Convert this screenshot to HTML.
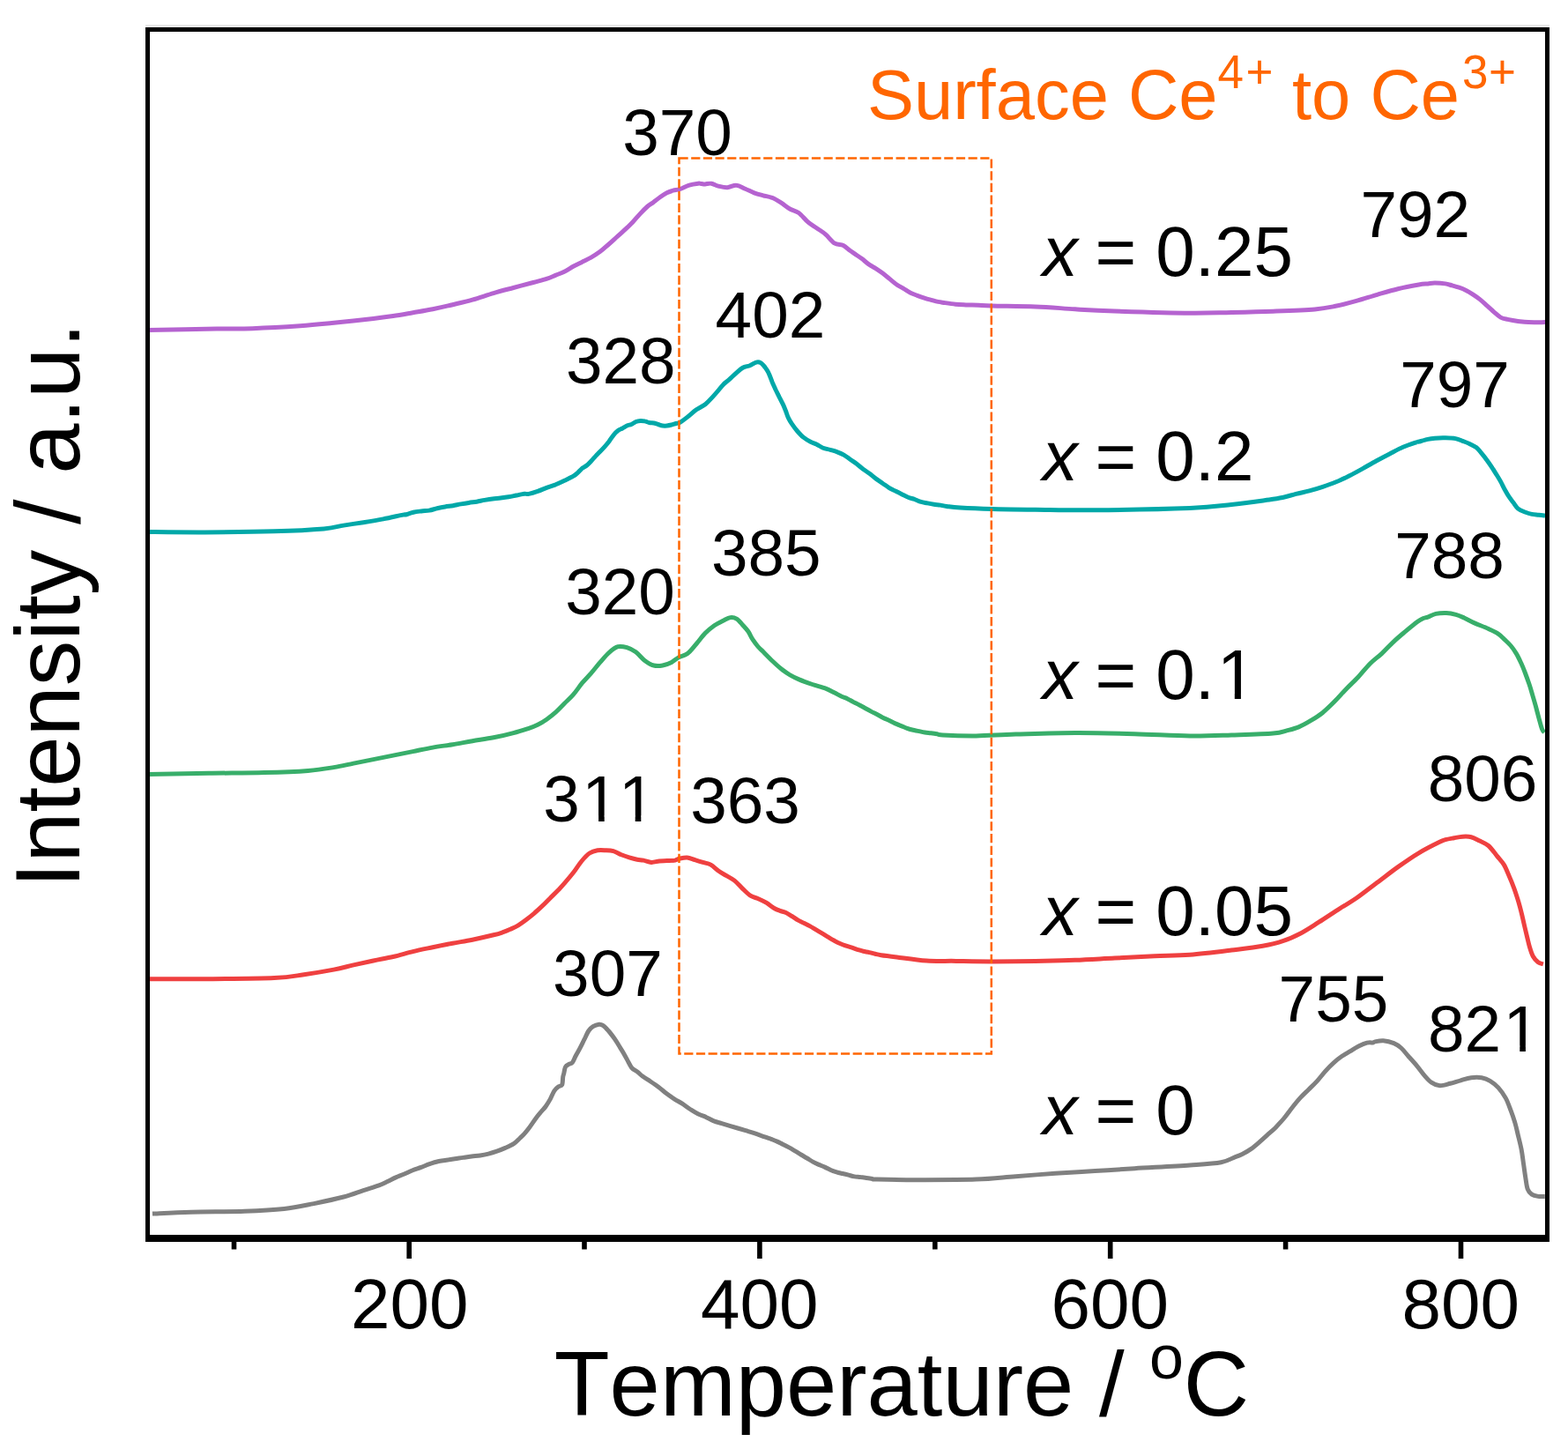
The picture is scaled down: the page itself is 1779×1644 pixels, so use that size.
<!DOCTYPE html><html><head><meta charset="utf-8"><title>TPR profiles</title><style>html,body{margin:0;padding:0;background:#fff;overflow:hidden;}svg{display:block;} text{font-kerning:none;}</style></head><body>
<svg width="1779" height="1644" viewBox="0 0 1779 1644" font-family="'Liberation Sans', Arial, sans-serif">
<rect width="1779" height="1644" fill="#fff"/>
<path d="M172.9 1377.1 C180.2 1376.8 199.3 1375.8 216.7 1375.3 C234.1 1374.8 259.8 1374.8 277.4 1374.2 C295.0 1373.6 309.3 1372.9 322.4 1371.5 C335.5 1370.1 344.9 1367.8 356.1 1365.6 C367.3 1363.3 380.4 1360.5 389.8 1358.0 C399.2 1355.5 405.6 1352.8 412.3 1350.6 C419.0 1348.4 425.4 1346.6 430.0 1344.9 C434.6 1343.2 436.4 1342.1 439.6 1340.6 C442.8 1339.1 445.9 1337.3 449.1 1335.9 C452.3 1334.5 455.5 1333.4 458.7 1332.0 C461.9 1330.6 465.0 1329.0 468.2 1327.7 C471.4 1326.4 474.6 1325.6 477.8 1324.4 C481.0 1323.2 484.1 1321.7 487.3 1320.6 C490.5 1319.5 493.7 1318.4 496.9 1317.7 C500.1 1317.0 503.2 1316.8 506.4 1316.3 C509.6 1315.8 512.8 1315.3 516.0 1314.8 C519.2 1314.3 522.4 1313.9 525.6 1313.4 C528.8 1312.9 531.9 1312.4 535.1 1312.0 C538.3 1311.6 541.5 1311.5 544.7 1311.0 C547.9 1310.5 551.0 1309.9 554.2 1309.1 C557.4 1308.3 560.6 1307.3 563.8 1306.2 C567.0 1305.1 570.1 1303.8 573.3 1302.4 C576.5 1301.0 580.1 1299.5 582.9 1297.6 C585.7 1295.7 588.0 1293.1 590.0 1291.2 C592.0 1289.3 593.3 1288.1 594.9 1286.3 C596.5 1284.5 598.1 1282.6 599.7 1280.5 C601.3 1278.4 603.0 1275.9 604.6 1273.6 C606.2 1271.3 607.9 1268.9 609.5 1266.8 C611.1 1264.7 612.7 1262.9 614.3 1261.0 C615.9 1259.1 617.6 1257.5 619.2 1255.2 C620.8 1252.9 622.5 1250.3 624.1 1247.4 C625.7 1244.5 627.3 1240.0 628.9 1237.6 C630.5 1235.2 632.3 1233.9 633.8 1232.8 C635.3 1231.7 636.9 1232.6 637.7 1230.8 C638.5 1229.0 638.4 1224.1 638.7 1222.0 C639.0 1219.9 639.2 1220.1 639.7 1218.2 C640.2 1216.3 640.6 1212.2 641.6 1210.4 C642.6 1208.6 644.2 1208.2 645.5 1207.4 C646.8 1206.6 648.1 1207.1 649.4 1205.5 C650.7 1203.9 651.8 1200.5 653.3 1197.7 C654.8 1194.9 656.6 1192.0 658.2 1188.9 C659.8 1185.8 661.4 1182.4 663.0 1179.2 C664.6 1176.0 666.3 1171.9 667.9 1169.5 C669.5 1167.1 670.8 1165.8 672.8 1164.6 C674.8 1163.4 677.7 1162.4 679.6 1162.2 C681.5 1162.0 682.6 1162.4 684.4 1163.6 C686.2 1164.8 688.2 1167.1 690.3 1169.5 C692.4 1171.9 695.1 1175.5 697.1 1178.2 C699.1 1181.0 700.4 1183.4 702.0 1186.0 C703.6 1188.6 705.2 1191.0 706.8 1193.8 C708.4 1196.6 710.1 1199.7 711.7 1202.6 C713.3 1205.5 714.7 1209.0 716.6 1211.3 C718.5 1213.6 721.3 1214.6 723.4 1216.2 C725.5 1217.8 726.6 1219.3 729.0 1221.1 C731.4 1222.9 735.0 1225.0 738.0 1227.0 C741.0 1229.0 744.0 1231.0 747.0 1233.3 C750.0 1235.5 753.0 1238.2 756.0 1240.5 C759.0 1242.8 762.0 1244.8 765.0 1246.8 C768.0 1248.8 771.0 1250.2 774.0 1252.2 C777.0 1254.2 780.0 1256.6 783.0 1258.5 C786.0 1260.4 788.9 1262.3 791.9 1263.8 C794.9 1265.3 797.9 1266.1 800.9 1267.4 C803.9 1268.8 806.9 1270.7 809.9 1271.9 C812.9 1273.1 815.9 1273.7 818.9 1274.6 C821.9 1275.5 824.9 1276.4 827.9 1277.3 C830.9 1278.2 833.9 1279.1 836.9 1280.0 C839.9 1280.9 842.9 1281.8 845.9 1282.7 C848.9 1283.6 851.9 1284.4 854.9 1285.4 C857.9 1286.4 860.9 1287.5 863.9 1288.6 C866.9 1289.6 871.0 1291.1 872.9 1291.7 C874.8 1292.3 873.5 1291.8 875.0 1292.4 C876.5 1293.0 879.5 1294.1 881.7 1295.1 C884.0 1296.1 886.2 1297.4 888.5 1298.5 C890.8 1299.6 893.0 1300.7 895.2 1301.9 C897.5 1303.1 899.8 1304.6 902.0 1305.9 C904.2 1307.2 906.5 1308.7 908.7 1310.0 C911.0 1311.3 913.2 1312.7 915.5 1314.0 C917.8 1315.3 920.0 1316.9 922.2 1318.1 C924.5 1319.3 926.8 1320.4 929.0 1321.4 C931.2 1322.4 933.5 1323.1 935.7 1324.1 C938.0 1325.1 940.2 1326.5 942.5 1327.5 C944.8 1328.5 947.0 1329.2 949.2 1329.9 C951.4 1330.6 953.6 1331.0 955.9 1331.5 C958.1 1332.0 960.5 1332.6 962.7 1333.2 C965.0 1333.8 967.1 1334.5 969.4 1334.9 C971.6 1335.3 974.0 1335.3 976.2 1335.6 C978.5 1335.8 980.6 1336.1 982.9 1336.4 C985.1 1336.7 987.7 1337.1 989.7 1337.4 C991.7 1337.7 986.6 1337.9 995.0 1338.1 C1003.4 1338.3 1021.3 1338.7 1040.0 1338.7 C1058.7 1338.7 1088.7 1338.8 1107.4 1338.1 C1126.1 1337.4 1137.4 1335.8 1152.4 1334.7 C1167.4 1333.6 1182.3 1332.3 1197.3 1331.3 C1212.3 1330.3 1227.3 1329.5 1242.3 1328.6 C1257.3 1327.7 1269.3 1326.8 1287.3 1325.7 C1305.2 1324.6 1333.7 1323.2 1350.0 1322.0 C1366.3 1320.8 1377.1 1320.2 1385.4 1318.7 C1393.7 1317.2 1396.0 1314.8 1400.0 1313.3 C1404.0 1311.8 1406.2 1311.1 1409.4 1309.5 C1412.6 1307.9 1415.8 1306.1 1418.9 1303.9 C1422.1 1301.7 1425.2 1299.0 1428.3 1296.3 C1431.4 1293.6 1434.6 1290.7 1437.7 1287.9 C1440.8 1285.1 1443.9 1282.6 1447.1 1279.4 C1450.2 1276.2 1453.4 1272.8 1456.6 1269.0 C1459.8 1265.2 1462.9 1260.6 1466.0 1256.7 C1469.1 1252.8 1472.2 1248.9 1475.4 1245.4 C1478.6 1242.0 1481.8 1239.1 1484.9 1236.0 C1488.1 1232.9 1491.2 1230.0 1494.3 1226.6 C1497.4 1223.1 1500.6 1218.8 1503.7 1215.3 C1506.8 1211.8 1509.9 1208.6 1513.1 1205.8 C1516.2 1203.0 1519.4 1200.5 1522.6 1198.3 C1525.8 1196.1 1528.9 1194.5 1532.0 1192.6 C1535.1 1190.7 1538.2 1188.6 1541.4 1187.0 C1544.6 1185.4 1548.2 1183.9 1550.9 1183.2 C1553.6 1182.5 1556.3 1183.1 1557.8 1182.9 C1559.3 1182.7 1558.0 1182.3 1560.0 1181.9 C1562.0 1181.5 1565.9 1180.4 1569.5 1180.7 C1573.1 1181.0 1578.0 1182.2 1581.4 1183.6 C1584.8 1185.0 1586.9 1186.5 1589.7 1189.0 C1592.5 1191.5 1595.0 1195.2 1598.0 1198.5 C1601.0 1201.8 1604.4 1205.5 1607.4 1209.1 C1610.4 1212.6 1613.0 1216.6 1615.8 1219.8 C1618.6 1223.0 1621.1 1226.1 1624.1 1228.1 C1627.0 1230.1 1630.0 1231.5 1633.5 1231.7 C1637.0 1231.9 1641.4 1230.3 1645.4 1229.3 C1649.4 1228.3 1653.3 1226.9 1657.3 1225.8 C1661.2 1224.7 1665.1 1223.3 1669.1 1222.8 C1673.0 1222.3 1677.4 1222.2 1681.0 1222.8 C1684.6 1223.4 1687.3 1224.4 1690.5 1226.3 C1693.7 1228.2 1697.0 1230.8 1700.0 1234.1 C1703.0 1237.4 1705.9 1241.6 1708.3 1245.9 C1710.7 1250.2 1712.4 1255.5 1714.2 1260.2 C1716.0 1265.0 1717.6 1269.7 1719.0 1274.4 C1720.4 1279.1 1721.3 1283.7 1722.5 1288.6 C1723.7 1293.5 1725.1 1298.8 1726.1 1304.0 C1727.1 1309.2 1727.6 1314.2 1728.4 1319.5 C1729.2 1324.8 1730.0 1331.2 1730.8 1336.1 C1731.6 1341.0 1732.0 1345.9 1733.2 1349.1 C1734.4 1352.3 1735.9 1353.7 1737.9 1355.1 C1739.9 1356.5 1742.6 1357.0 1745.1 1357.4 C1747.6 1357.8 1751.5 1357.4 1752.8 1357.4" fill="none" stroke="#808080" stroke-width="5" stroke-linejoin="round" stroke-linecap="butt"/>
<path d="M168.4 1110.7 C179.1 1110.7 208.7 1110.9 232.5 1110.7 C256.3 1110.5 292.5 1110.3 311.2 1109.5 C329.9 1108.7 333.7 1107.3 344.9 1105.7 C356.1 1104.1 369.2 1101.9 378.6 1100.1 C388.0 1098.3 393.6 1096.6 401.1 1094.9 C408.6 1093.2 416.1 1091.6 423.6 1090.0 C431.1 1088.4 438.5 1087.2 446.0 1085.5 C453.5 1083.8 461.0 1081.4 468.5 1079.6 C476.0 1077.8 483.5 1076.3 491.0 1074.7 C498.5 1073.1 506.0 1071.6 513.5 1070.2 C521.0 1068.8 528.2 1067.8 536.0 1066.2 C543.8 1064.6 554.3 1062.2 560.0 1060.8 C565.7 1059.4 566.8 1059.0 570.0 1057.9 C573.2 1056.8 576.0 1055.7 579.0 1054.3 C582.0 1052.9 585.0 1051.6 588.0 1049.8 C591.0 1048.0 594.0 1045.8 597.0 1043.5 C600.0 1041.2 603.0 1038.8 606.0 1036.3 C609.0 1033.8 612.0 1031.0 615.0 1028.2 C618.0 1025.4 621.0 1022.2 624.0 1019.2 C627.0 1016.2 630.0 1013.4 633.0 1010.3 C636.0 1007.2 638.9 1003.8 641.9 1000.4 C644.9 997.0 647.9 993.5 650.9 989.6 C653.9 985.7 656.9 980.6 659.9 977.0 C662.9 973.4 665.9 970.0 668.9 968.0 C671.9 966.0 674.9 965.3 677.9 964.8 C680.9 964.3 683.9 964.6 686.9 964.8 C689.9 964.9 692.9 964.9 695.9 965.7 C698.9 966.5 701.9 968.6 704.9 969.8 C707.9 971.0 710.9 972.0 713.9 972.9 C716.9 973.8 720.2 974.7 722.9 975.2 C725.6 975.7 727.3 975.6 730.0 976.1 C732.7 976.6 736.0 978.2 739.0 978.4 C742.0 978.5 745.0 977.3 748.0 977.0 C751.0 976.7 754.0 976.8 757.0 976.6 C760.0 976.5 763.8 976.5 766.0 976.1 C768.2 975.7 768.2 974.8 770.5 974.3 C772.8 973.8 776.5 972.8 779.5 973.0 C782.5 973.2 785.5 974.8 788.5 975.7 C791.5 976.6 794.4 977.5 797.4 978.4 C800.4 979.3 803.4 979.5 806.4 981.1 C809.4 982.8 812.4 986.2 815.4 988.3 C818.4 990.4 821.4 991.9 824.4 993.7 C827.4 995.5 830.4 996.7 833.4 999.1 C836.4 1001.5 839.4 1005.2 842.4 1008.1 C845.4 1011.0 848.4 1014.3 851.4 1016.2 C854.4 1018.1 857.4 1018.4 860.4 1019.7 C863.4 1021.0 866.4 1022.4 869.4 1024.2 C872.4 1026.0 875.8 1029.0 878.4 1030.5 C881.0 1032.0 882.8 1032.6 885.0 1033.4 C887.2 1034.2 889.5 1034.5 891.7 1035.5 C894.0 1036.5 896.2 1038.1 898.5 1039.5 C900.8 1040.9 903.0 1042.6 905.2 1043.9 C907.5 1045.2 909.8 1046.2 912.0 1047.3 C914.2 1048.4 916.5 1049.4 918.7 1050.6 C921.0 1051.8 923.2 1053.3 925.5 1054.7 C927.8 1056.1 930.0 1057.4 932.2 1058.7 C934.5 1060.0 936.8 1061.5 939.0 1062.8 C941.2 1064.1 943.5 1065.6 945.7 1066.8 C948.0 1068.0 950.2 1069.2 952.5 1070.2 C954.8 1071.2 957.0 1072.1 959.2 1072.9 C961.4 1073.7 963.6 1074.2 965.9 1074.9 C968.1 1075.6 970.5 1076.6 972.7 1077.3 C975.0 1078.0 977.1 1078.8 979.4 1079.3 C981.6 1079.8 984.0 1080.1 986.2 1080.6 C988.5 1081.1 990.6 1081.8 992.9 1082.3 C995.1 1082.8 995.6 1083.1 999.7 1083.7 C1003.8 1084.3 1008.9 1084.9 1017.5 1085.9 C1026.1 1087.0 1040.0 1089.2 1051.2 1090.0 C1062.5 1090.8 1072.6 1090.2 1085.0 1090.4 C1097.4 1090.6 1110.4 1090.9 1125.4 1090.9 C1140.4 1090.9 1159.1 1090.7 1174.8 1090.4 C1190.5 1090.1 1204.8 1089.8 1219.8 1089.3 C1234.8 1088.8 1249.8 1087.8 1264.8 1087.1 C1279.8 1086.3 1295.6 1085.4 1309.8 1084.8 C1324.0 1084.2 1335.4 1084.4 1350.0 1083.3 C1364.6 1082.2 1383.4 1079.8 1397.2 1078.1 C1411.0 1076.4 1422.8 1075.1 1432.6 1073.3 C1442.4 1071.5 1449.1 1069.8 1456.2 1067.4 C1463.3 1065.1 1468.4 1062.7 1475.1 1059.2 C1481.8 1055.7 1488.9 1050.9 1496.4 1046.2 C1503.9 1041.5 1512.9 1035.3 1520.0 1030.8 C1527.1 1026.3 1531.8 1023.9 1538.9 1019.0 C1546.0 1014.1 1554.6 1007.2 1562.5 1001.3 C1570.4 995.4 1578.2 989.2 1586.1 983.6 C1594.0 978.0 1601.8 972.5 1609.7 967.8 C1617.6 963.1 1628.2 957.8 1633.3 955.3 C1638.3 952.8 1637.3 953.5 1640.0 952.7 C1642.7 951.9 1646.5 951.3 1649.7 950.7 C1653.0 950.1 1656.2 949.4 1659.5 949.2 C1662.8 949.0 1666.0 948.9 1669.2 949.7 C1672.4 950.5 1675.7 952.5 1678.9 954.1 C1682.2 955.7 1685.5 956.7 1688.7 959.5 C1692.0 962.3 1695.5 967.5 1698.4 971.1 C1701.3 974.7 1703.9 977.2 1706.2 980.9 C1708.5 984.6 1710.0 989.0 1712.0 993.5 C1714.0 998.0 1716.1 1003.2 1717.9 1008.1 C1719.7 1013.0 1721.2 1017.8 1722.7 1022.7 C1724.2 1027.6 1725.5 1032.8 1726.6 1037.3 C1727.7 1041.8 1728.5 1045.8 1729.5 1050.0 C1730.5 1054.2 1731.5 1058.5 1732.5 1062.6 C1733.5 1066.6 1734.3 1070.6 1735.4 1074.3 C1736.5 1078.0 1737.7 1082.1 1739.3 1085.0 C1740.9 1087.9 1743.2 1090.3 1745.1 1091.8 C1747.0 1093.3 1749.9 1093.5 1750.9 1093.8" fill="none" stroke="#EF4040" stroke-width="5" stroke-linejoin="round" stroke-linecap="butt"/>
<path d="M168.4 878.4 C179.8 878.2 215.1 877.6 237.0 877.3 C258.9 877.0 281.2 877.1 299.9 876.6 C318.6 876.1 336.3 875.4 349.4 874.4 C362.5 873.4 370.0 872.0 378.6 870.6 C387.2 869.2 393.6 867.6 401.1 866.1 C408.6 864.6 416.1 863.1 423.6 861.6 C431.1 860.1 438.5 858.6 446.0 857.1 C453.5 855.6 461.0 854.1 468.5 852.6 C476.0 851.1 483.5 849.4 491.0 848.1 C498.5 846.8 506.0 845.9 513.5 844.7 C521.0 843.5 528.2 842.0 536.0 840.7 C543.8 839.4 552.2 838.3 560.0 836.8 C567.8 835.3 575.8 833.4 582.5 831.6 C589.2 829.9 595.4 827.8 600.0 826.3 C604.6 824.8 606.7 824.0 610.1 822.3 C613.5 820.6 616.8 818.6 620.2 816.2 C623.6 813.8 627.0 811.1 630.4 808.1 C633.8 805.1 637.1 801.4 640.5 798.0 C643.9 794.6 647.2 791.8 650.6 787.9 C654.0 784.0 657.3 778.8 660.7 774.7 C664.1 770.7 667.4 767.5 670.8 763.6 C674.2 759.7 677.5 755.3 680.9 751.4 C684.3 747.5 687.7 743.2 691.1 740.3 C694.5 737.3 697.8 734.6 701.2 733.7 C704.6 732.8 707.9 733.7 711.3 734.7 C714.7 735.7 718.0 737.3 721.4 739.8 C724.8 742.2 728.1 746.9 731.5 749.4 C734.9 751.9 738.3 754.1 741.7 755.0 C745.1 755.9 748.4 755.6 751.8 755.0 C755.2 754.4 758.9 752.9 761.9 751.4 C764.9 749.9 767.0 747.5 770.0 745.9 C773.0 744.3 776.6 744.2 780.0 741.6 C783.4 739.0 786.7 734.4 790.1 730.5 C793.5 726.6 796.8 721.8 800.2 718.3 C803.6 714.8 807.0 712.1 810.4 709.7 C813.8 707.4 817.5 705.7 820.5 704.2 C823.5 702.7 826.1 701.0 828.6 700.6 C831.1 700.2 833.4 700.7 835.7 702.1 C838.1 703.5 840.5 706.8 842.7 709.2 C844.9 711.6 846.9 713.6 848.8 716.3 C850.7 719.0 852.0 722.5 853.9 725.4 C855.8 728.3 857.9 731.1 859.9 733.5 C861.9 735.9 863.3 736.9 866.0 739.6 C868.7 742.3 872.7 746.5 876.1 749.7 C879.5 752.9 882.8 756.1 886.2 758.8 C889.6 761.5 893.0 763.9 896.4 765.9 C899.8 767.9 902.3 769.1 906.5 770.9 C910.7 772.7 916.7 774.8 921.7 776.5 C926.8 778.2 932.6 779.5 936.8 781.1 C941.0 782.7 944.0 784.6 947.0 786.1 C950.0 787.6 952.5 789.1 955.0 790.2 C957.5 791.3 959.5 791.8 961.7 792.9 C964.0 794.0 966.2 795.4 968.5 796.6 C970.8 797.8 973.0 798.8 975.2 800.0 C977.5 801.2 979.8 802.5 982.0 803.7 C984.2 804.9 986.5 806.2 988.7 807.4 C991.0 808.6 993.2 809.6 995.5 810.8 C997.8 812.0 1000.0 813.4 1002.2 814.5 C1004.5 815.6 1006.8 816.4 1009.0 817.5 C1011.2 818.6 1013.5 819.9 1015.7 820.9 C1018.0 821.9 1020.2 822.7 1022.5 823.6 C1024.8 824.5 1027.0 825.5 1029.2 826.3 C1031.4 827.1 1033.7 827.8 1035.9 828.3 C1038.2 828.8 1040.5 829.1 1042.7 829.6 C1045.0 830.1 1047.2 830.6 1049.4 831.0 C1051.7 831.4 1054.0 831.4 1056.2 831.7 C1058.5 832.0 1060.7 832.3 1062.9 832.7 C1065.2 833.1 1062.3 833.6 1069.7 834.0 C1077.1 834.4 1093.6 835.0 1107.4 834.9 C1121.2 834.8 1133.7 833.6 1152.4 833.1 C1171.1 832.6 1197.3 831.7 1219.8 831.6 C1242.3 831.5 1265.6 832.1 1287.3 832.7 C1309.0 833.3 1331.7 834.8 1350.0 835.0 C1368.3 835.2 1381.5 834.5 1397.2 834.0 C1412.9 833.5 1433.9 833.0 1444.4 832.1 C1454.9 831.2 1455.2 830.1 1460.0 828.9 C1464.8 827.7 1469.0 826.8 1473.5 824.9 C1478.0 823.0 1482.5 820.4 1487.0 817.7 C1491.5 815.0 1496.0 812.3 1500.5 808.7 C1505.0 805.1 1509.5 800.6 1514.0 796.1 C1518.5 791.6 1522.9 786.4 1527.4 781.7 C1531.9 777.1 1536.4 773.0 1540.9 768.2 C1545.4 763.4 1549.9 757.5 1554.4 753.0 C1558.9 748.5 1563.4 745.5 1567.9 741.3 C1572.4 737.1 1576.9 732.0 1581.4 727.8 C1585.9 723.6 1590.4 719.9 1594.9 716.1 C1599.4 712.4 1605.2 707.7 1608.4 705.3 C1611.7 702.9 1612.5 702.6 1614.4 701.7 C1616.3 700.8 1617.5 701.0 1620.0 700.1 C1622.5 699.2 1625.6 697.2 1629.1 696.4 C1632.6 695.6 1637.2 695.4 1641.0 695.5 C1644.8 695.6 1648.6 696.4 1651.9 697.3 C1655.2 698.2 1657.6 699.4 1661.1 701.0 C1664.6 702.6 1668.4 704.9 1672.9 706.9 C1677.5 708.9 1684.0 711.3 1688.4 713.3 C1692.8 715.3 1696.4 716.8 1699.4 718.8 C1702.5 720.8 1704.3 722.9 1706.7 725.2 C1709.1 727.5 1711.7 729.8 1714.0 732.5 C1716.3 735.2 1718.4 738.3 1720.4 741.6 C1722.4 744.9 1724.2 748.9 1725.9 752.5 C1727.6 756.1 1728.9 759.5 1730.4 763.5 C1731.9 767.5 1733.6 772.2 1735.0 776.3 C1736.4 780.4 1737.4 784.0 1738.6 788.1 C1739.8 792.2 1741.1 796.5 1742.3 800.9 C1743.5 805.3 1744.7 810.2 1745.9 814.6 C1747.1 819.0 1748.5 824.7 1749.6 827.4 C1750.7 830.1 1751.8 830.4 1752.3 831.0" fill="none" stroke="#38AE6A" stroke-width="5" stroke-linejoin="round" stroke-linecap="butt"/>
<path d="M168.4 603.5 C179.1 603.6 208.7 604.0 232.5 603.9 C256.3 603.8 288.5 603.5 311.0 602.8 C333.5 602.1 354.3 601.0 367.4 599.9 C380.5 598.8 382.3 597.3 389.8 596.1 C397.3 594.9 404.8 593.9 412.3 592.7 C419.8 591.5 427.3 590.3 434.8 588.9 C442.3 587.5 453.1 584.9 457.3 584.1 C461.5 583.3 458.1 584.5 460.0 584.0 C461.9 583.5 466.0 582.0 469.0 581.3 C472.0 580.6 475.0 580.3 478.0 579.9 C481.0 579.5 484.0 579.6 487.0 579.1 C490.0 578.6 493.0 577.5 496.0 576.8 C499.0 576.1 502.0 575.5 505.0 575.0 C508.0 574.5 511.0 574.2 514.0 573.7 C517.0 573.2 520.0 572.4 523.0 571.9 C526.0 571.4 528.9 571.0 531.9 570.5 C534.9 570.0 537.9 569.7 540.9 569.2 C543.9 568.7 546.9 567.9 549.9 567.4 C552.9 566.9 555.9 566.4 558.9 566.0 C561.9 565.6 564.9 565.5 567.9 565.1 C570.9 564.7 573.9 564.3 576.9 563.8 C579.9 563.3 582.9 562.6 585.9 562.0 C588.9 561.4 592.5 560.5 594.9 560.2 C597.2 559.9 597.5 560.9 600.0 560.4 C602.5 559.9 606.7 558.6 610.1 557.4 C613.5 556.2 616.8 554.6 620.2 553.3 C623.6 552.0 627.0 551.1 630.4 549.8 C633.8 548.4 637.1 546.8 640.5 545.2 C643.9 543.6 648.1 541.7 650.6 540.2 C653.1 538.7 654.0 537.6 655.7 536.1 C657.4 534.6 659.0 532.5 660.7 531.1 C662.4 529.8 664.1 529.4 665.8 528.0 C667.5 526.6 669.1 524.8 670.8 523.0 C672.5 521.2 674.2 519.2 675.9 517.4 C677.6 515.6 679.2 514.1 680.9 512.3 C682.6 510.5 684.3 508.7 686.0 506.8 C687.7 504.9 689.4 502.9 691.1 500.7 C692.8 498.5 694.4 495.6 696.1 493.6 C697.8 491.6 699.5 489.9 701.2 488.6 C702.9 487.3 704.5 486.9 706.2 486.0 C707.9 485.1 709.6 483.8 711.3 483.0 C713.0 482.2 714.7 482.2 716.4 481.5 C718.1 480.8 719.7 479.2 721.4 478.5 C723.1 477.8 724.8 477.5 726.5 477.4 C728.2 477.3 729.8 477.5 731.5 477.9 C733.2 478.2 734.9 479.1 736.6 479.5 C738.3 479.9 740.0 479.7 741.7 480.0 C743.4 480.3 745.0 481.0 746.7 481.5 C748.4 482.0 750.1 482.8 751.8 483.0 C753.5 483.2 755.1 483.2 756.8 483.0 C758.5 482.8 760.2 482.4 761.9 482.0 C763.6 481.6 765.4 480.9 766.9 480.5 C768.4 480.1 768.8 480.7 771.0 479.5 C773.2 478.3 776.8 475.6 780.0 473.1 C783.2 470.7 786.7 467.2 790.1 464.8 C793.5 462.4 797.2 461.1 800.2 458.7 C803.2 456.3 805.8 453.3 808.3 450.6 C810.8 447.9 813.4 444.9 815.4 442.5 C817.4 440.1 818.5 438.4 820.5 436.4 C822.5 434.4 825.1 432.7 827.6 430.4 C830.1 428.1 833.2 425.0 835.7 422.8 C838.2 420.6 840.2 418.6 842.7 417.2 C845.2 415.8 848.3 415.7 850.8 414.7 C853.3 413.7 855.9 411.6 857.9 411.1 C859.9 410.6 861.3 410.7 863.0 411.6 C864.7 412.5 866.5 414.8 868.0 416.7 C869.5 418.6 870.8 420.5 872.1 423.3 C873.5 426.1 874.8 430.2 876.1 433.4 C877.5 436.6 878.9 439.6 880.2 442.5 C881.6 445.4 882.9 447.9 884.2 450.6 C885.6 453.3 887.1 456.2 888.3 458.7 C889.5 461.2 890.3 463.3 891.3 465.8 C892.3 468.3 893.1 471.4 894.3 473.9 C895.5 476.4 896.7 478.4 898.4 480.9 C900.1 483.4 902.3 486.5 904.5 489.0 C906.7 491.5 909.0 494.1 911.5 496.1 C914.0 498.1 917.1 499.9 919.6 501.2 C922.1 502.5 924.3 503.0 926.7 504.2 C929.1 505.4 931.3 507.3 933.8 508.3 C936.3 509.3 939.2 509.6 941.9 510.3 C944.6 511.1 947.4 511.8 950.0 512.8 C952.6 513.8 954.9 514.7 957.3 516.1 C959.7 517.5 962.2 519.5 964.6 521.2 C967.0 522.9 969.5 524.5 971.9 526.3 C974.3 528.1 976.8 530.4 979.2 532.2 C981.6 534.0 984.1 535.5 986.5 537.3 C988.9 539.1 991.3 541.3 993.8 543.1 C996.2 544.9 998.8 546.5 1001.2 548.2 C1003.7 549.9 1006.1 551.8 1008.5 553.3 C1010.9 554.8 1013.4 555.8 1015.8 557.0 C1018.2 558.2 1020.7 559.5 1023.1 560.7 C1025.5 561.9 1028.0 563.3 1030.4 564.3 C1032.8 565.3 1035.3 565.6 1037.7 566.5 C1040.1 567.4 1042.6 568.7 1045.0 569.4 C1047.4 570.1 1049.9 570.4 1052.3 570.9 C1054.7 571.4 1057.2 571.9 1059.6 572.3 C1062.0 572.7 1064.5 572.7 1066.9 573.1 C1069.3 573.5 1070.5 574.0 1074.2 574.5 C1078.0 575.0 1080.9 575.6 1089.4 576.1 C1097.9 576.6 1111.2 577.2 1125.4 577.6 C1139.6 578.0 1155.3 578.1 1174.8 578.3 C1194.3 578.5 1213.1 579.1 1242.3 578.8 C1271.5 578.5 1324.2 577.5 1350.0 576.5 C1375.8 575.5 1382.2 574.1 1397.2 572.5 C1412.2 570.9 1430.3 568.3 1440.0 567.0 C1449.7 565.7 1450.1 565.6 1455.2 564.5 C1460.3 563.4 1465.4 561.7 1470.4 560.4 C1475.5 559.1 1480.5 558.2 1485.5 556.9 C1490.5 555.5 1495.6 554.0 1500.7 552.3 C1505.8 550.6 1510.8 548.9 1515.9 546.8 C1521.0 544.7 1526.0 542.2 1531.1 539.7 C1536.1 537.2 1541.2 534.4 1546.2 531.6 C1551.2 528.8 1556.3 525.8 1561.4 523.0 C1566.5 520.2 1571.5 517.5 1576.6 514.9 C1581.7 512.3 1586.7 509.5 1591.8 507.3 C1596.9 505.1 1604.0 502.8 1607.0 501.8 C1610.0 500.8 1607.5 501.8 1609.7 501.2 C1611.9 500.6 1617.0 499.1 1620.0 498.4 C1623.0 497.7 1624.6 497.5 1627.9 497.2 C1631.2 496.9 1635.8 496.7 1639.7 496.8 C1643.6 496.9 1648.2 497.0 1651.5 497.6 C1654.8 498.2 1656.7 499.3 1659.3 500.3 C1661.9 501.3 1664.6 502.2 1667.2 503.5 C1669.8 504.8 1672.7 505.9 1675.1 507.8 C1677.5 509.7 1679.4 512.5 1681.4 514.9 C1683.4 517.3 1685.1 519.5 1686.9 522.0 C1688.7 524.5 1690.6 527.1 1692.4 529.9 C1694.2 532.6 1696.2 535.8 1697.9 538.5 C1699.6 541.2 1701.0 543.5 1702.6 546.4 C1704.2 549.3 1705.8 552.9 1707.4 555.8 C1709.0 558.7 1710.5 561.3 1712.1 563.7 C1713.7 566.1 1715.1 567.8 1716.8 570.0 C1718.5 572.2 1720.1 575.3 1722.3 577.1 C1724.5 578.9 1727.6 580.0 1730.2 581.0 C1732.8 582.0 1735.4 582.9 1738.0 583.4 C1740.6 583.9 1743.4 583.9 1745.9 584.2 C1748.4 584.5 1751.8 584.9 1753.0 585.0" fill="none" stroke="#00A8A8" stroke-width="5" stroke-linejoin="round" stroke-linecap="butt"/>
<path d="M168.4 374.5 C181.3 374.3 226.3 373.4 246.0 373.1 C265.7 372.8 270.7 373.2 286.4 372.7 C302.1 372.1 325.4 370.8 340.4 369.8 C355.4 368.8 366.3 367.6 376.4 366.6 C386.5 365.7 393.1 365.0 401.0 364.1 C408.9 363.2 416.1 362.4 423.6 361.5 C431.1 360.6 438.5 359.6 446.0 358.5 C453.5 357.4 461.0 356.0 468.5 354.7 C476.0 353.4 483.5 352.2 491.0 350.7 C498.5 349.2 506.0 347.5 513.5 345.7 C521.0 343.9 528.2 342.3 536.0 340.1 C543.8 337.9 552.2 334.9 560.0 332.6 C567.8 330.3 575.0 328.5 582.5 326.5 C590.0 324.5 598.8 322.2 605.0 320.5 C611.2 318.8 615.8 317.8 620.0 316.4 C624.2 315.0 626.7 313.8 630.1 312.4 C633.5 311.0 636.8 310.0 640.2 308.3 C643.6 306.6 647.0 304.2 650.4 302.3 C653.8 300.4 657.1 298.9 660.5 297.2 C663.9 295.5 667.2 294.0 670.6 292.1 C674.0 290.2 677.3 288.1 680.7 285.6 C684.1 283.1 687.4 279.9 690.8 277.0 C694.2 274.1 697.5 270.9 700.9 267.9 C704.3 264.8 708.2 261.4 711.1 258.7 C714.0 256.0 715.6 254.4 718.1 251.7 C720.6 249.0 723.5 245.5 726.2 242.6 C728.9 239.7 731.8 236.7 734.3 234.5 C736.8 232.3 738.9 231.3 741.4 229.4 C743.9 227.5 747.0 225.1 749.5 223.3 C752.0 221.5 754.2 220.0 756.6 218.8 C759.0 217.6 761.2 216.9 763.7 216.2 C766.2 215.5 768.8 215.5 771.8 214.5 C774.8 213.5 778.5 211.2 781.9 210.2 C785.3 209.1 789.6 208.5 792.0 208.2 C794.4 207.9 794.7 208.4 796.0 208.5 C797.3 208.6 798.1 209.0 800.0 208.9 C801.9 208.8 804.6 207.8 807.1 208.2 C809.6 208.6 812.2 210.4 815.2 211.2 C818.2 211.9 821.9 212.9 825.3 212.7 C828.7 212.5 832.0 209.9 835.4 210.2 C838.8 210.4 842.1 212.8 845.5 214.2 C848.9 215.6 852.3 217.5 855.7 218.8 C859.1 220.1 862.4 220.9 865.8 221.8 C869.2 222.7 872.5 223.0 875.9 224.3 C879.3 225.7 882.6 227.8 886.0 229.9 C889.4 232.0 892.7 235.1 896.1 237.0 C899.5 238.9 902.8 239.1 906.2 241.5 C909.6 243.9 913.0 248.8 916.4 251.7 C919.8 254.6 923.1 256.3 926.5 258.7 C929.9 261.1 933.2 262.9 936.6 265.8 C940.0 268.7 943.3 273.8 946.7 275.9 C950.1 278.0 953.9 277.1 956.8 278.5 C959.7 279.9 961.8 282.4 964.0 284.0 C966.2 285.6 967.7 286.5 970.0 288.1 C972.3 289.7 975.3 291.6 977.9 293.6 C980.5 295.6 983.1 298.1 985.7 299.9 C988.3 301.7 991.0 302.9 993.6 304.6 C996.2 306.3 998.9 308.1 1001.5 310.1 C1004.1 312.1 1006.7 314.3 1009.3 316.4 C1011.9 318.5 1014.6 320.9 1017.2 322.7 C1019.8 324.5 1022.5 325.8 1025.1 327.4 C1027.7 329.0 1030.4 330.9 1033.0 332.2 C1035.6 333.5 1038.2 334.3 1040.8 335.3 C1043.4 336.3 1046.1 337.2 1048.7 338.1 C1051.3 339.0 1054.0 339.7 1056.6 340.4 C1059.2 341.1 1061.8 341.9 1064.4 342.4 C1067.0 342.9 1069.0 343.1 1072.3 343.6 C1075.6 344.1 1080.2 344.8 1084.1 345.2 C1088.0 345.6 1091.6 345.7 1095.9 345.9 C1100.2 346.1 1105.1 346.1 1110.0 346.3 C1114.9 346.5 1114.6 346.7 1125.4 347.0 C1136.2 347.3 1159.1 347.3 1174.8 347.9 C1190.5 348.5 1204.8 349.9 1219.8 350.8 C1234.8 351.7 1243.1 352.3 1264.8 353.0 C1286.5 353.7 1327.9 355.0 1350.0 355.2 C1372.1 355.4 1381.5 354.7 1397.2 354.4 C1412.9 354.1 1428.7 353.8 1444.4 353.2 C1460.2 352.6 1479.9 351.9 1491.7 350.9 C1503.5 349.9 1507.4 348.9 1515.3 347.3 C1523.2 345.7 1531.0 343.6 1538.9 341.4 C1546.8 339.2 1554.6 336.6 1562.5 334.3 C1570.4 332.0 1578.2 329.6 1586.1 327.7 C1594.0 325.8 1604.0 324.0 1609.7 323.0 C1615.4 322.0 1617.0 322.2 1620.0 321.9 C1623.0 321.6 1624.6 321.1 1627.9 321.1 C1631.2 321.1 1636.4 321.4 1639.7 321.9 C1643.0 322.4 1644.9 323.2 1647.5 323.9 C1650.1 324.6 1652.8 325.3 1655.4 326.2 C1658.0 327.1 1660.7 328.1 1663.3 329.4 C1665.9 330.7 1668.6 332.4 1671.2 334.1 C1673.8 335.8 1676.4 337.5 1679.0 339.6 C1681.6 341.7 1684.3 344.3 1686.9 346.7 C1689.5 349.1 1692.2 351.6 1694.8 353.8 C1697.4 356.0 1700.0 358.7 1702.6 360.1 C1705.2 361.5 1707.2 361.7 1710.5 362.4 C1713.8 363.1 1718.4 363.9 1722.3 364.4 C1726.2 364.9 1729.0 365.4 1734.1 365.6 C1739.2 365.8 1749.8 365.6 1753.0 365.6" fill="none" stroke="#B563D0" stroke-width="5" stroke-linejoin="round" stroke-linecap="butt"/>
<rect x="770.5" y="179.4" width="354.3" height="1016.1" fill="none" stroke="#FF6600" stroke-width="2.5" stroke-dasharray="10.2 3.47"/>
<rect x="165" y="28" width="1593" height="2.8" fill="#E8E8E8"/>
<rect x="165" y="31" width="5" height="1378" fill="#000"/>
<rect x="1753" y="31" width="5" height="1378" fill="#000"/>
<rect x="165" y="31" width="1593" height="5" fill="#000"/>
<rect x="165" y="1401" width="1593" height="8" fill="#000"/>
<rect x="461.4" y="1408" width="5.6" height="20" fill="#000"/>
<rect x="859.1" y="1408" width="5.6" height="20" fill="#000"/>
<rect x="1256.9" y="1408" width="5.6" height="20" fill="#000"/>
<rect x="1654.7" y="1408" width="5.6" height="20" fill="#000"/>
<rect x="262.7" y="1408" width="5.6" height="9.5" fill="#000"/>
<rect x="660.2" y="1408" width="5.6" height="9.5" fill="#000"/>
<rect x="1058.0" y="1408" width="5.6" height="9.5" fill="#000"/>
<rect x="1455.8" y="1408" width="5.6" height="9.5" fill="#000"/>
<defs><clipPath id="c12"><path clip-rule="evenodd" d="M0 0H1779V1644H0Z M664.8 925.4h14.3v7.2h-14.3Z M685.7 925.4h14.2v7.2h-14.2Z M706.4 925.4h14.3v7.2h-14.3Z M727.3 925.4h14.2v7.2h-14.2Z"/></clipPath><clipPath id="c17"><path clip-rule="evenodd" d="M0 0H1779V1644H0Z M1710.0 1186.5h14.3v7.2h-14.3Z M1730.9 1186.5h14.2v7.2h-14.2Z"/></clipPath><clipPath id="c20"><path clip-rule="evenodd" d="M0 0H1779V1644H0Z M1385.5 786.7h15.3v7.6h-15.3Z M1407.9 786.7h15.2v7.6h-15.2Z"/></clipPath></defs>
<text x="398.0" y="1507.3" font-size="80">200</text>
<text x="795.1" y="1507.3" font-size="80">400</text>
<text x="1192.6" y="1507.3" font-size="80">600</text>
<text x="1590.5" y="1507.3" font-size="80">800</text>
<text x="706.3" y="176.1" font-size="74.7">370</text>
<text x="641.9" y="434.7" font-size="74.7">328</text>
<text x="811.6" y="383.3" font-size="74.7">402</text>
<text x="1543.4" y="268.7" font-size="74.7">792</text>
<text x="1588.3" y="462.2" font-size="74.7">797</text>
<text x="641.2" y="696.5" font-size="74.7">320</text>
<text x="807.0" y="653.0" font-size="74.7">385</text>
<text x="1582.2" y="655.5" font-size="74.7">788</text>
<text x="616.3" y="931.6" font-size="74.7" clip-path="url(#c12)">3<tspan dx="2.5">1</tspan><tspan>1</tspan></text>
<text x="783.2" y="933.9" font-size="74.7">363</text>
<text x="1619.7" y="908.9" font-size="74.7">806</text>
<text x="627.1" y="1129.7" font-size="74.7">307</text>
<text x="1450.6" y="1159.4" font-size="74.7">755</text>
<text x="1619.9" y="1192.7" font-size="74.7" clip-path="url(#c17)">82<tspan dx="2.5">1</tspan></text>
<text x="1182.7" y="313.3" font-size="80"><tspan font-style="italic">x </tspan><tspan x="1242.4">= 0.25</tspan></text>
<text x="1182.7" y="545.3" font-size="80"><tspan font-style="italic">x </tspan><tspan x="1242.4">= 0.2</tspan></text>
<text x="1182.7" y="793.3" font-size="80" clip-path="url(#c20)"><tspan font-style="italic">x </tspan><tspan x="1242.4">= 0.</tspan><tspan dx="2.6">1</tspan></text>
<text x="1182.7" y="1060.5" font-size="80"><tspan font-style="italic">x </tspan><tspan x="1242.4">= 0.05</tspan></text>
<text x="1182.7" y="1287" font-size="80"><tspan font-style="italic">x </tspan><tspan x="1242.4">= 0</tspan></text>
<text x="983.9" y="134.7" font-size="79.5" fill="#FF6600"><tspan>Surface Ce</tspan><tspan x="1381.6" y="100.3" font-size="53">4</tspan><tspan x="1413.5" y="100.3" font-size="53">+ </tspan><tspan x="1466" y="134.7">to Ce</tspan><tspan x="1659" y="100.3" font-size="53">3</tspan><tspan x="1689" y="100.3" font-size="53">+</tspan></text>
<text x="628.7" y="1605.5" font-size="103"><tspan>Temperature / </tspan><tspan x="1304.1" y="1563.6" font-size="70">o</tspan><tspan x="1342.8" y="1605.5">C</tspan></text>
<text x="0" y="0" font-size="103" transform="translate(90.3,1007.3) rotate(-90)">Intensity / a.u.</text>
</svg></body></html>
